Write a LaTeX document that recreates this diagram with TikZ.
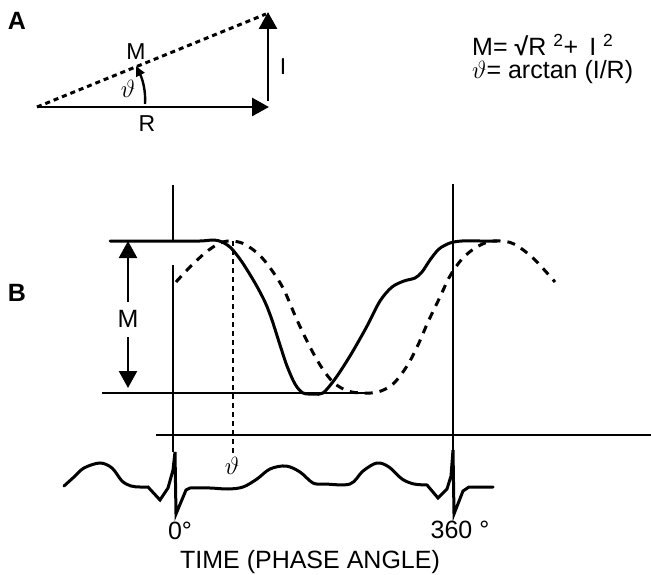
\documentclass[tikz,border=0pt]{standalone}
\usepackage{fontspec}
\setmainfont{Liberation Sans}
\usetikzlibrary{arrows.meta}
\begin{document}
\begin{tikzpicture}[x=1pt,y=-1pt,
  lbl/.style={font=\fontsize{23}{27}\selectfont, inner sep=0pt},
  big/.style={font=\fontsize{25}{30}\selectfont, inner sep=0pt},
  panel/.style={font=\fontsize{25}{30}\selectfont\bfseries, inner sep=0pt},
  bigtri/.style={-{Triangle[length=17pt,width=18pt]}},
  heavy/.style={line width=3pt, line join=round, line cap=round},
  thin/.style={line width=2pt},
  dotline/.style={line width=3pt, dash pattern=on 5pt off 4pt},
  dashcurve/.style={line width=3pt, dash pattern=on 8pt off 7pt},
]
\useasboundingbox (0,0) rectangle (651,575);

% ---------- Panel A ----------
\node[panel] (A) at (17,21) {A};
\coordinate (O) at (37,107);
\coordinate (Rend) at (269,107);
\coordinate (Ibot) at (268,101);
\coordinate (Itop) at (268,12);
\coordinate (Mend) at (266,14);
\draw[line width=2.8pt, bigtri] (O) -- (Rend);
\draw[line width=2.8pt, bigtri] (Ibot) -- (Itop);
\draw[dotline] (O) -- (Mend);
\coordinate (th1) at (145,104);
\coordinate (th2) at (136,66);
\draw[line width=2.4pt, -{Triangle[length=10pt,width=9pt]}] (th1) .. controls (146,90) and (142,78) .. (th2);
\node[lbl] (MA) at (136,52) {M};
\node[lbl] (thA) at (128,89) {$\vartheta$};
\node[lbl] (IA) at (283,67) {I};
\node[lbl] (RA) at (147,124) {R};
\node[big, anchor=west] (f1) at (472,45) {M= \textbf{√}R \textsuperscript{2}+ \,I \textsuperscript{2}};
\node[big, anchor=west] (f2) at (472,72) {$\vartheta$= arctan (I/R)};

% ---------- Panel B ----------
\node[panel] (B) at (17,293) {B};
% vertical guide lines
\coordinate (V1top) at (173,185);
\coordinate (V1a) at (173,241);
\coordinate (V1b) at (173,265);
\coordinate (V1bot) at (173,452);
\coordinate (V2top) at (453,184);
\coordinate (V2bot) at (453,452);
\draw[thin] (V1top) -- (V1a);
\draw[thin] (V1b) -- (V1bot);
\draw[thin] (V2top) -- (V2bot);
% time axis
\coordinate (axL) at (156,435);
\coordinate (axR) at (651,435);
\draw[thin] (axL) -- (axR);
% baseline
\coordinate (bL) at (102,393);
\coordinate (bR) at (370,393);
\draw[line width=2.4pt] (bL) -- (bR);
% M arrows
\node[big] (MB) at (128,319) {M};
\coordinate (Mt1) at (128,302);
\coordinate (Mt2) at (128,241);
\coordinate (Mb1) at (128,337);
\coordinate (Mb2) at (128,388);
\draw[line width=2.4pt, bigtri] (Mt1) -- (Mt2);
\draw[line width=2.4pt, bigtri] (Mb1) -- (Mb2);
% theta dotted line
\coordinate (tht) at (233,241);
\coordinate (thb) at (233,455);
\draw[line width=2.6pt, dash pattern=on 5pt off 4pt] (tht) -- (thb);
\node[lbl] (thB) at (232,466) {$\vartheta$};

% solid curve
\draw[heavy] plot[smooth, tension=0.5] coordinates {
 (110,241) (170,241) (200,241) (214,240) (222,242) (231,248) (242,262) (255,283)
 (265,302) (272,320) (280,345) (287,366) (295,384) (303,393) (314,394) (323,393)
 (335,379) (350,356) (366,328) (380,301) (392,287) (404,281) (415,278) (422,272)
 (430,260) (439,249) (450,243) (462,241) (480,241) (497,241)};

% dashed curve
\draw[dashcurve] plot[smooth, tension=0.55] coordinates {
 (176,282) (190,267) (205,253) (218,244) (228,241) (242,243) (256,252) (268,265)
 (283,288) (297,320) (310,347) (322,368) (334,383) (348,391) (362,393) (378,392)
 (393,384) (407,366) (418,345) (428,322) (440,297) (450,276) (462,259) (475,248)
 (488,242) (500,241) (514,244) (533,258) (555,282)};

% ECG trace
\draw[heavy, line join=miter] plot[smooth, tension=0.55] coordinates {
 (64,486) (74,477) (84,468) (100,463) (112,468) (122,481) (131,486) (140,487) (148,487)}
 -- (160,500) -- (168,488) -- (173,470) -- (175,452) -- (176,514) -- (186,490)
 -- plot[smooth, tension=0.55] coordinates {
 (190,488) (210,488) (228,489) (243,487) (257,479) (270,469) (286,466) (300,472)
 (313,483) (325,484) (350,484) (363,471) (377,463) (389,467) (402,479) (414,484)
 (427,485)}
 -- (438,498) -- (447,489) -- (451,476) -- (453,450) -- (454,514) -- (463,491)
 -- (469,487) -- (493,487);

% labels
\node[big] (deg0) at (180,531) {0°};
\node[big] (deg360) at (460,530) {360 °};
\node[big] (time) at (310,562) {TIME (PHASE ANGLE)};
\end{tikzpicture}
\end{document}
